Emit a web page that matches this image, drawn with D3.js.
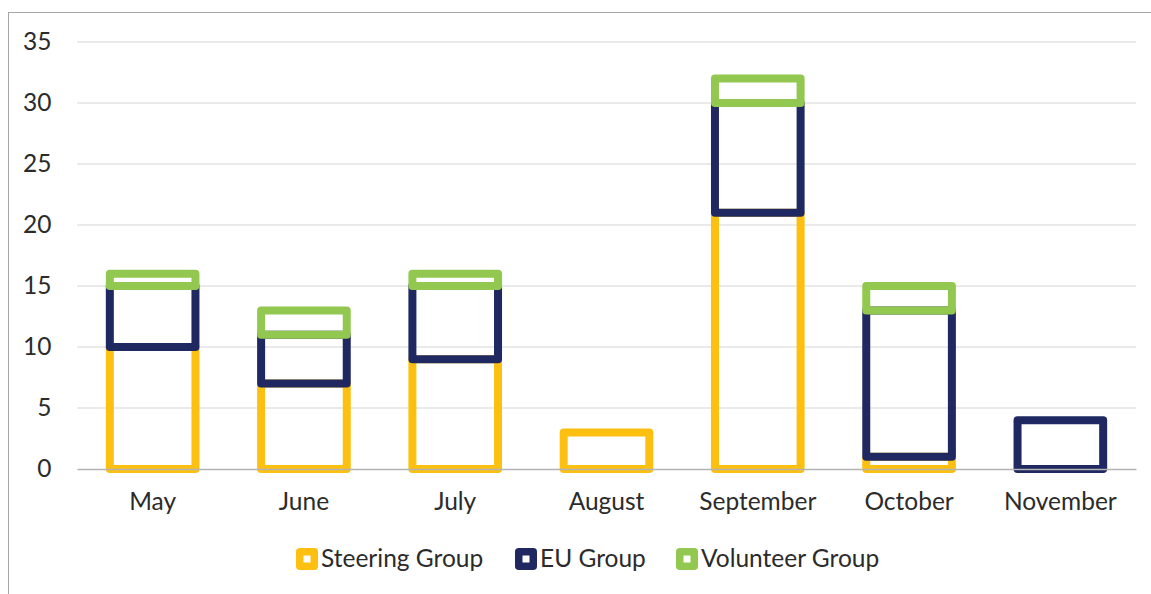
<!DOCTYPE html>
<html lang="en">
<head>
<meta charset="utf-8">
<title>Group activity</title>
<style type="text/css">
  body { margin: 0; background: #fff; }
  text { font-family: "Lato", sans-serif; fill: #2b2b2b; }
  .tick text { font-size: 24.5px; }
  .legend text { font-size: 24.5px; }
</style>
</head>
<body>
<script src="https://cdnjs.cloudflare.com/ajax/libs/d3/7.8.5/d3.min.js"></script>
<script type="text/javascript">

// chart data
const months = ["May", "June", "July", "August", "September", "October", "November"];
const steering = [10, 7, 9, 3, 21, 1, 0];
const euGroup = [5, 4, 6, 0, 9, 12, 4];
const volunteer = [1, 2, 1, 0, 2, 2, 0];
const seriesNames = ["Steering Group", "EU Group", "Volunteer Group"];
const seriesColors = ["#FDC010", "#1F2860", "#92C84F"];
const yTicks = [0, 5, 10, 15, 20, 25, 30, 35];

const width = 1151, height = 594;
const plotLeft = 77, plotRight = 1136, plotTop = 42, plotBottom = 469;
const strokeW = 8;

var svg = d3.select("body").append("svg")
            .attr("width", width)
            .attr("height", height);

// outer frame
svg.append("rect")
   .attr("x", 8.5).attr("y", 12.5)
   .attr("width", width + 20).attr("height", height + 20)
   .attr("fill", "none")
   .attr("stroke", "#a6a6a6");

var xScale = d3.scaleBand()
               .domain(months)
               .range([plotLeft, plotRight])
               .paddingInner(0.434)
               .paddingOuter(0.217);

var yScale = d3.scaleLinear()
               .domain([0, 35])
               .range([plotBottom, plotTop]);

// gridlines
svg.append("g")
   .selectAll("line")
   .data(yTicks.filter(d => d > 0))
   .enter()
   .append("line")
   .attr("x1", plotLeft).attr("x2", plotRight)
   .attr("y1", d => yScale(d)).attr("y2", d => yScale(d))
   .attr("stroke", "#e3e3e3")
   .attr("stroke-width", 1.5);

// stack the three series
var table = months.map((m, i) => ({month: m, s0: steering[i], s1: euGroup[i], s2: volunteer[i]}));
var stacked = d3.stack().keys(["s0", "s1", "s2"])(table);

stacked.forEach(function(layer, k) {
  svg.append("g")
     .selectAll("rect")
     .data(layer.filter(d => d[1] - d[0] > 0))
     .enter()
     .append("rect")
     .attr("x", d => xScale(d.data.month))
     .attr("y", d => yScale(d[1]))
     .attr("width", xScale.bandwidth())
     .attr("height", d => yScale(d[0]) - yScale(d[1]))
     .attr("fill", "none")
     .attr("stroke", seriesColors[k])
     .attr("stroke-width", strokeW)
     .attr("stroke-linejoin", "round");
});

// x axis
var xAxis = d3.axisBottom(xScale).tickSize(0).tickPadding(24);
var gx = svg.append("g")
   .attr("transform", "translate(0," + plotBottom + ")")
   .call(xAxis);
gx.select(".domain").attr("stroke", "#b3b3b3").attr("stroke-width", 1.5);

// y axis
var yAxis = d3.axisLeft(yScale).tickValues(yTicks).tickSize(0).tickPadding(25.5);
var gy = svg.append("g")
   .attr("transform", "translate(" + plotLeft + ",0)")
   .call(yAxis);
gy.select(".domain").remove();

svg.selectAll(".tick text").attr("fill", "#2b2b2b").style("font-family", "Lato");

// legend: stroked squares like the bars
var legendX = [296, 515, 676];
var legend = svg.append("g").attr("class", "legend");
seriesNames.forEach(function(name, k) {
  var g = legend.append("g").attr("transform", "translate(" + legendX[k] + ",548)");
  g.append("rect").attr("x", 3.75).attr("y", 3.75).attr("width", 14.5).attr("height", 14.5)
   .attr("fill", "#fff")
   .attr("stroke", seriesColors[k])
   .attr("stroke-width", 7.5)
   .attr("stroke-linejoin", "round");
  g.append("text").attr("x", 25).attr("y", 19).text(name);
});

</script>
</body>
</html>
